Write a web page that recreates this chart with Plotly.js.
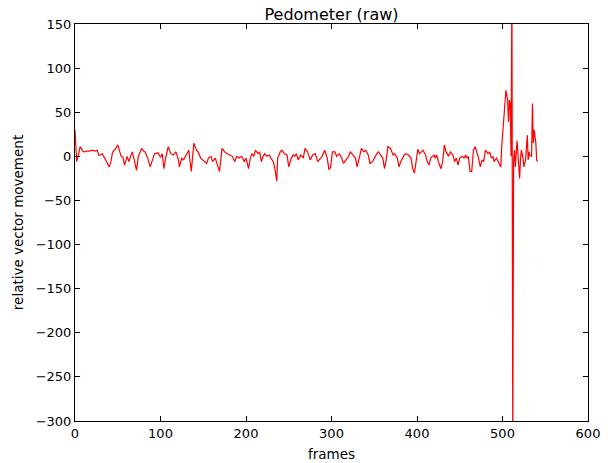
<!DOCTYPE html>
<html>
<head>
<meta charset="utf-8">
<script src="https://cdn.plot.ly/plotly-3.0.1.min.js"></script>
<style>html,body{margin:0;padding:0;background:#fff;}#chart{width:610px;height:463px;}</style>
</head>
<body>
<div id="chart"></div>
<script>
// frames (x) and relative vector movement (y)
const frames = [
  0, 2, 4, 6, 9, 11, 14, 17, 20, 23, 26, 28, 32, 35, 38, 40, 42, 44, 47, 50,
  52, 54, 56, 58, 61, 63, 65, 67, 69, 72, 74, 76, 78, 80, 82, 85, 88, 90, 93, 97,
  100, 102, 104, 106, 109, 112, 115, 118, 121, 122, 125, 127, 129, 133, 136, 139, 142, 144, 147, 151,
  154, 156, 159, 161, 164, 166, 169, 172, 175, 178, 181, 184, 187, 189, 192, 195, 198, 200, 203, 205,
  207, 209, 211, 214, 216, 218, 220, 222, 224, 227, 229, 232, 234, 236, 237, 240, 242, 245, 248, 250,
  253, 255, 257, 259, 261, 264, 267, 269, 272, 275, 278, 281, 284, 287, 289, 292, 295, 297, 299, 301,
  304, 306, 309, 312, 314, 317, 320, 322, 325, 328, 330, 333, 335, 338, 340, 343, 345, 348, 351, 353,
  355, 357, 360, 362, 364, 366, 369, 372, 374, 377, 379, 381, 383, 385, 387, 390, 393, 395, 397, 399,
  401, 403, 405, 407, 410, 412, 414, 416, 418, 420, 421, 423, 425, 428, 430, 432, 434, 437, 439, 442,
  444, 446, 448, 450, 453, 455, 457, 458, 460, 462, 464, 466, 468, 470, 472, 474, 476, 478, 480, 483,
  485, 487, 489, 490, 493, 496, 498, 499, 501, 503, 504, 506, 507, 508, 509, 510, 511, 512, 513, 514,
  515, 517, 518, 520, 521, 522, 524, 525, 527, 529, 530, 531, 532, 534, 535, 536, 537, 539, 540, 541
];
const movement = [
  30, -6, 2, 11, 6, 5, 6, 6, 7, 6, 7, 1, 3, -2, -8, -12, -6, 5, 8, 13,
  6, 0, -1, -10, 0, -6, 0, 5, -3, -16, 0, 5, 9, 6, 5, -2, -12, -6, 3, 4,
  -1, 3, -14, -2, 11, 3, 1.5, 5, -4, -12, -2, -4, 0, 7, -17, 15, 7, 5, -2, -6,
  -8, -2, 0, -6, -2, -8, -17, 9, 5, 3, 1.5, 0, -6, 0, -2, 0, -6, -2, -14, -2,
  3, 0, 7, 3, 5, -6, 0, 3, 0, 1.5, -2, -6, -15, -28, -2, 5, 7, 3, 1.5, -12,
  -2, 1.5, 0, 3, -4, 1.5, -2, 9, 5, -4, 1.5, 3, -6, -2, 0, 7, -2, -15, -12, 5,
  5, 0, 3, -2, -8, -4, 0, 5, 1.5, -2, -12, 0, 9, 5, 7, 1.5, -8, -6, 0, 3,
  5, 1.5, -2, -14, -4, 11, 9, 1.5, 3, -2, -12, -6, -2, 1.5, 3, 1.5, -2, -14, -19, -2,
  8, 3, 5, 7, 1.5, -6, -10, -2, 0, 1.5, -2, 1.5, -6, -14, -6, 13, 5, 0, 5, 1.5,
  -6, -2, -10, -2, 0, -2, 1.5, -2, 0, -17, -17, 7, 11, 5, -2, -12, -4, -6, 7, 3,
  5, -2, 0, -6, -2, -8, -12, 10, 37, 73, 75, 64, 39, 64, 60, 0, 200, -330, -4, 7,
  -12, 18, 0, -25, -4, 7, -2, -12, -4, 24, -4, 5, 1, 0, 60, 15, 30, 15, -4, -6
];
const xTicks = [0, 100, 200, 300, 400, 500, 600];
const yTicks = [-300, -250, -200, -150, -100, -50, 0, 50, 100, 150];

const tickFont = {family: 'DejaVu Sans, sans-serif', size: 13, color: '#000'};
const titleFont = {family: 'DejaVu Sans, sans-serif', size: 13.5, color: '#000'};
const axisCommon = {
  showline: true, linecolor: '#000', linewidth: 1, mirror: 'allticks',
  ticks: 'inside', ticklen: 5, tickwidth: 1, tickcolor: '#000',
  showgrid: false, zeroline: false, tickfont: tickFont
};
const data = [{
  x: frames, y: movement, type: 'scatter', mode: 'lines',
  line: {color: '#ff0000', width: 1.2}, hoverinfo: 'skip'
}];
const layout = {
  width: 610, height: 463,
  margin: {l: 75, r: 22, t: 24, b: 42},
  paper_bgcolor: '#fff', plot_bgcolor: '#fff',
  showlegend: false,
  font: tickFont,
  title: {text: 'Pedometer (raw)', font: {family: 'DejaVu Sans, sans-serif', size: 16, color: '#000'},
          xref: 'paper', x: 0.5, xanchor: 'center', yref: 'paper', y: 1, yanchor: 'bottom', pad: {b: 4}},
  xaxis: Object.assign({}, axisCommon, {range: [0, 600], tickvals: xTicks, ticktext: xTicks.map(String),
          title: {text: 'frames', font: titleFont, standoff: 9}}),
  yaxis: Object.assign({}, axisCommon, {range: [-300, 150], tickvals: yTicks, ticktext: yTicks.map(v => v < 0 ? '\u2212' + Math.abs(v) : String(v)),
          title: {text: 'relative vector movement', font: titleFont, standoff: 8}})
};
Plotly.newPlot('chart', data, layout, {staticPlot: true, displayModeBar: false});
</script>
</body>
</html>
